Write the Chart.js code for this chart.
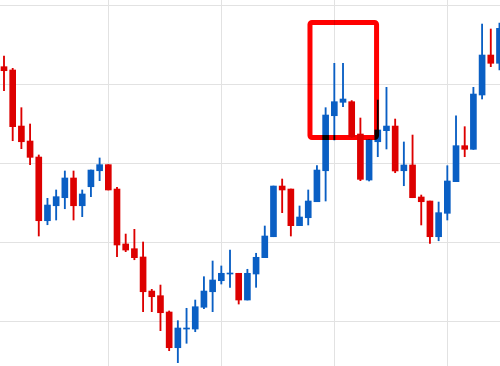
<!DOCTYPE html>
<html>
<head>
<meta charset="utf-8">
<script src="https://cdn.jsdelivr.net/npm/chart.js@4/dist/chart.umd.min.js"></script>
<style>
  html, body { margin: 0; padding: 0; background: #ffffff; }
  #wrap { width: 500px; height: 366px; }
</style>
</head>
<body>
<div id="wrap"><canvas id="c" width="500" height="366"></canvas></div>
<script>
// Candle series, one entry per candle
const opens  = [132.30,131.88,124.77,122.87,120.84,112.76,114.66,115.68,118.18,114.66,
                117.07,119.10,119.87,116.78,109.81,109.21,108.16,103.84,103.25,101.18,
                96.65,99.02,99.02,101.78,103.75,105.15,106.00,106.09,102.70,106.00,
                108.07,110.73,117.16,116.78,112.13,113.14,115.17,119.10,126.08,127.78,
                127.86,123.76,117.92,122.78,124.18,124.77,119.10,119.83,115.77,115.26,
                110.73,113.70,117.71,122.28,121.82,128.71,133.78,132.73];
const highs  = [133.65,132.09,127.10,125.03,121.10,115.60,116.66,119.07,119.07,116.66,
                119.19,120.72,119.87,117.00,111.07,111.67,110.06,104.06,104.60,101.31,
                100.08,101.65,102.70,105.66,107.65,107.02,109.04,106.09,106.60,108.63,
                112.09,117.16,118.05,116.78,114.63,116.66,119.74,127.10,132.73,132.73,
                128.00,125.79,123.00,128.07,129.68,125.66,122.75,123.63,116.02,115.26,
                115.13,119.74,126.08,124.69,129.68,137.71,137.08,137.84];
const lows   = [129.25,122.91,121.90,119.87,110.82,112.25,112.85,114.28,112.85,113.27,
                115.81,117.84,116.66,108.19,108.83,107.81,101.22,101.22,98.81,96.27,
                94.75,97.21,98.68,101.60,101.22,104.73,104.31,102.19,102.70,104.31,
                108.07,110.73,113.78,110.82,112.13,112.22,115.17,115.26,123.00,127.22,
                123.30,117.84,117.80,120.88,121.86,118.85,117.20,115.68,112.22,109.89,
                110.22,112.85,117.71,120.88,121.80,128.20,132.30,131.88];
const closes = [131.79,124.69,122.78,120.80,112.76,114.75,115.81,118.18,114.66,116.15,
                119.19,119.87,116.66,109.68,109.04,108.07,103.75,103.12,101.09,96.65,
                99.15,99.15,101.85,103.84,105.24,106.09,106.12,102.70,106.09,108.12,
                110.82,117.16,116.66,112.13,113.23,115.26,119.19,126.17,127.86,128.20,
                123.42,118.01,123.00,124.27,124.77,119.07,119.83,115.68,115.17,110.73,
                113.78,117.80,122.28,121.82,128.83,133.78,132.73,137.17];
// Grid tick values
const priceTicks = [100, 110, 120, 130, 140];
const timeTicks  = [12, 25, 38, 51];
// Highlight box, in data units: [x from, x to], [price low, price high]
const boxX = [35.2, 42.86];
const boxY = [123.32, 137.90];

const UP = '#0a5fc4', DOWN = '#dd0000';
const idx = opens.map((_, i) => i);
const colors = idx.map(i => closes[i] >= opens[i] ? UP : DOWN);
const bodies = idx.map(i => ({ x: i, y: [opens[i], closes[i]] }));
const wicks  = idx.map(i => ({ x: i, y: [lows[i], highs[i]] }));

const boxPlugin = {
  id: 'box',
  afterDatasetsDraw(chart) {
    const { ctx, scales } = chart;
    const x1 = scales.x.getPixelForValue(boxX[0]);
    const x2 = scales.x.getPixelForValue(boxX[1]);
    const y1 = scales.y.getPixelForValue(boxY[1]);
    const y2 = scales.y.getPixelForValue(boxY[0]);
    ctx.save();
    ctx.globalCompositeOperation = 'multiply';
    ctx.strokeStyle = '#ff0000';
    ctx.lineWidth = 5;
    ctx.lineJoin = 'round';
    ctx.beginPath();
    if (ctx.roundRect) ctx.roundRect(x1, y1, x2 - x1, y2 - y1, 2);
    else ctx.rect(x1, y1, x2 - x1, y2 - y1);
    ctx.stroke();
    ctx.restore();
  }
};

new Chart(document.getElementById('c'), {
  type: 'bar',
  data: {
    datasets: [
      { label: 'body', data: bodies, backgroundColor: colors, barThickness: 6,
        grouped: false, order: 0, minBarLength: 1, borderWidth: 0 },
      { label: 'wick', data: wicks, backgroundColor: colors, barThickness: 1.2,
        grouped: false, order: 1, borderWidth: 0 }
    ]
  },
  options: {
    responsive: false,
    animation: false,
    maintainAspectRatio: false,
    layout: { padding: 0 },
    plugins: { legend: { display: false }, tooltip: { enabled: false } },
    scales: {
      x: {
        type: 'linear', min: -0.46, max: 57.06, offset: false,
        ticks: { display: false },
        grid: { color: '#e2e2e2', drawTicks: false, lineWidth: 1, offset: false },
        border: { display: false },
        afterBuildTicks: s => { s.ticks = timeTicks.map(v => ({ value: v })); }
      },
      y: {
        type: 'linear', min: 94.33, max: 140.76,
        ticks: { display: false },
        grid: { color: '#e2e2e2', drawTicks: false, lineWidth: 1 },
        border: { display: false },
        afterBuildTicks: s => { s.ticks = priceTicks.map(v => ({ value: v })); }
      }
    }
  },
  plugins: [boxPlugin]
});
</script>
</body>
</html>
